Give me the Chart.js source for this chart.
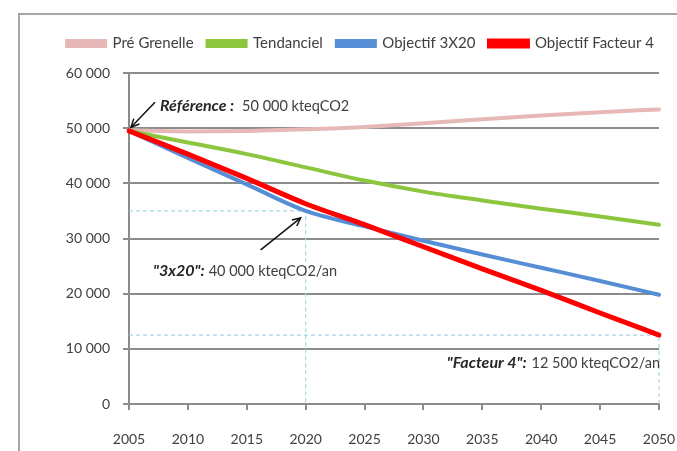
<!DOCTYPE html>
<html>
<head>
<meta charset="utf-8">
<script src="https://cdn.jsdelivr.net/npm/chart.js@4"></script>
<style>
  html, body { margin: 0; padding: 0; background: #fff; overflow: hidden; }
  #wrap { position: relative; width: 677px; height: 451px; overflow: hidden; }
  #frame { position: absolute; left: 18px; top: 13px; right: -20px; bottom: -20px;
           border-top: 2px solid #a6a6a6; border-left: 2px solid #a6a6a6; pointer-events: none; }
</style>
</head>
<body>
<div id="wrap">
  <canvas id="lineChart" width="677" height="451"></canvas>
  <div id="frame"></div>
</div>
<script>
// années
var years = ["2005", "2010", "2015", "2020", "2025", "2030", "2035", "2040", "2045", "2050"];
// émissions en kteqCO2
var preGrenelle = [49600, 49400, 49500, 49800, 50200, 50900, 51600, 52300, 52900, 53400];
var tendanciel = [49500, 47400, 45300, 42900, 40500, 38500, 36900, 35400, 34000, 32500];
var objectif3x20 = [49500, 44600, 39800, 35000, 32200, 29600, 27100, 24700, 22300, 19800];
var facteur4 = [49500, 45300, 40900, 36300, 32500, 28500, 24500, 20600, 16500, 12500];
var yTicks = [0, 10000, 20000, 30000, 40000, 50000, 60000];

var grey = "#8c8c8c";
var txt = "#404040";
var fnt = "Lato, 'Open Sans', sans-serif";

function fmt(v) {
    return String(v).replace(/\B(?=(\d{3})+(?!\d))/g, " ");
}

function arrow(ctx, x1, y1, x2, y2) {
    var a = Math.atan2(y2 - y1, x2 - x1);
    ctx.beginPath();
    ctx.moveTo(x1, y1);
    ctx.lineTo(x2, y2);
    ctx.stroke();
    ctx.beginPath();
    ctx.moveTo(x2 - 9 * Math.cos(a - 0.45), y2 - 9 * Math.sin(a - 0.45));
    ctx.lineTo(x2, y2);
    ctx.lineTo(x2 - 9 * Math.cos(a + 0.45), y2 - 9 * Math.sin(a + 0.45));
    ctx.stroke();
}

var boldFont = "italic bold 16px " + fnt;
var normFont = "14.5px " + fnt;

function label(ctx, x, y, bold, rest, gap) {
    ctx.textBaseline = "middle";
    ctx.textAlign = "left";
    ctx.fillStyle = "#262626";
    ctx.font = boldFont;
    ctx.fillText(bold, x, y);
    var w = ctx.measureText(bold).width;
    ctx.fillStyle = txt;
    ctx.font = normFont;
    ctx.fillText(rest, x + w + gap, y);
}

// lignes pointillées + annotations
var notes = {
    id: "notes",
    beforeDatasetsDraw: function (chart) {
        var ctx = chart.ctx, xs = chart.scales.x, ys = chart.scales.y;
        var x0 = xs.getPixelForValue(0), y0 = ys.getPixelForValue(0);
        var i20 = years.indexOf("2020"), iEnd = years.length - 1;
        var xa = xs.getPixelForValue(i20), ya = ys.getPixelForValue(objectif3x20[i20]);
        var xb = xs.getPixelForValue(iEnd), yb = ys.getPixelForValue(facteur4[iEnd]);
        ctx.save();
        ctx.strokeStyle = "#a9d6e5";
        ctx.lineWidth = 1.2;
        ctx.setLineDash([4, 3]);
        ctx.beginPath();
        ctx.moveTo(x0, ya); ctx.lineTo(xa, ya); ctx.lineTo(xa, y0);
        ctx.moveTo(x0, yb); ctx.lineTo(xb, yb); ctx.lineTo(xb, y0);
        ctx.stroke();
        ctx.restore();
    },
    afterDatasetsDraw: function (chart) {
        var ctx = chart.ctx, xs = chart.scales.x, ys = chart.scales.y;
        var i20 = years.indexOf("2020"), iEnd = years.length - 1;
        var xr = xs.getPixelForValue(0), yr = ys.getPixelForValue(50000);
        var xa = xs.getPixelForValue(i20), ya = ys.getPixelForValue(objectif3x20[i20]);
        var xb = xs.getPixelForValue(iEnd), yb = ys.getPixelForValue(facteur4[iEnd]);
        ctx.save();
        ctx.strokeStyle = "#111";
        ctx.lineWidth = 1.5;
        arrow(ctx, xr + 26, yr - 26, xr + 2, yr - 1);
        arrow(ctx, xa - 45, ya + 39, xa - 5, ya + 7);
        label(ctx, xr + 31, yr - 22, "Référence :", "50 000 kteqCO2", 8);
        label(ctx, xr + 24, ya + 60, "\"3x20\":", "40 000 kteqCO2/an", 4);
        var s1 = "\"Facteur 4\":", s2 = "12 500 kteqCO2/an";
        ctx.font = boldFont;
        var w1 = ctx.measureText(s1).width;
        ctx.font = normFont;
        var w2 = ctx.measureText(s2).width;
        label(ctx, xb + 1 - w1 - w2 - 5, yb + 28, s1, s2, 5);
        ctx.restore();
    }
};

var fixLegend = {
    id: "fixLegend",
    beforeInit: function (chart) {
        var orig = chart.legend.fit;
        chart.legend.fit = function () {
            orig.bind(chart.legend)();
            this.height = 51;
        };
    },
    afterLayout: function (chart) {
        // la légende est un peu décalée vers la droite
        chart.legend.left += 22;
        chart.legend.right += 22;
    }
};

new Chart(document.querySelector("#lineChart"), {
    type: "line",
    data: {
        labels: years,
        datasets: [
            { label: "Pré Grenelle", data: preGrenelle, borderColor: "#e6b9b8", backgroundColor: "#e6b9b8", borderWidth: 4, order: 4 },
            { label: "Tendanciel", data: tendanciel, borderColor: "#8cc63f", backgroundColor: "#8cc63f", borderWidth: 4, order: 3 },
            { label: "Objectif 3X20", data: objectif3x20, borderColor: "#558ed5", backgroundColor: "#558ed5", borderWidth: 4, order: 2 },
            { label: "Objectif Facteur 4", data: facteur4, borderColor: "#ff0000", backgroundColor: "#ff0000", borderWidth: 5, order: 1 }
        ]
    },
    options: {
        responsive: false,
        animation: false,
        elements: {
            point: { radius: 0 },
            line: { tension: 0.35, cubicInterpolationMode: "monotone", borderCapStyle: "round" }
        },
        layout: { padding: { top: 22, right: 0, left: 0, bottom: 0 } },
        plugins: {
            legend: {
                labels: {
                    boxWidth: 38, boxHeight: 5, padding: 14,
                    color: txt, font: { family: fnt, size: 15 },
                    sort: function (a, b) { return a.datasetIndex - b.datasetIndex; }
                }
            },
            tooltip: { enabled: false }
        },
        scales: {
            x: {
                offset: false,
                grid: { drawOnChartArea: false, color: grey, lineWidth: 2, tickLength: 6 },
                border: { color: grey, width: 2 },
                ticks: { color: txt, font: { family: fnt, size: 14 }, padding: 21, maxRotation: 0 },
                afterFit: function (s) { s.height = 47; s.paddingRight = 18; }
            },
            y: {
                min: 0, max: 60000,
                afterBuildTicks: function (s) { s.ticks = yTicks.map(function (v) { return { value: v }; }); },
                grid: { color: grey, lineWidth: 2, tickLength: 6 },
                border: { color: grey, width: 2 },
                ticks: { color: txt, font: { family: fnt, size: 14 }, padding: 13, callback: function (v) { return fmt(v); } },
                afterFit: function (s) { s.width = 129; }
            }
        }
    },
    plugins: [notes, fixLegend]
});
</script>
</body>
</html>
